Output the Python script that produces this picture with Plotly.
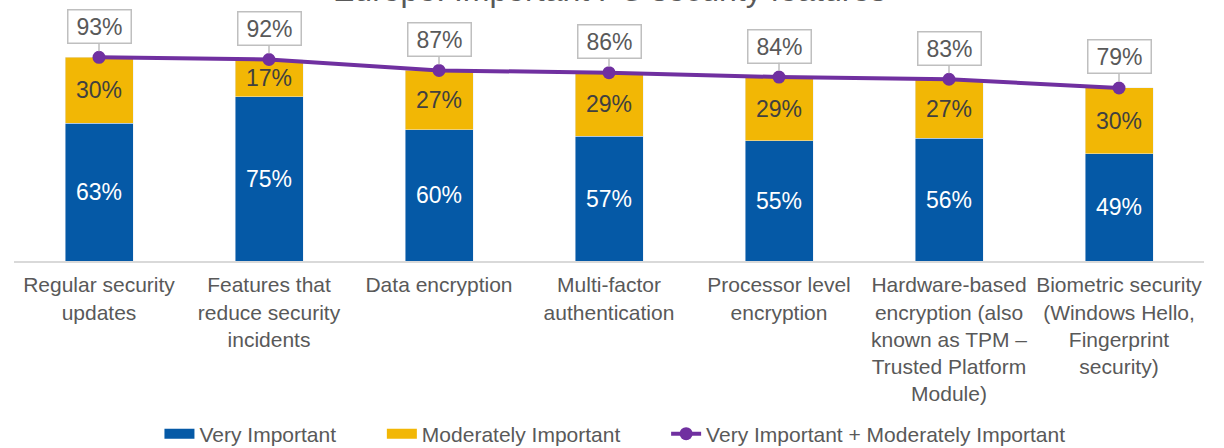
import plotly.graph_objects as go

categories = [
    "Regular security<br>updates",
    "Features that<br>reduce security<br>incidents",
    "Data encryption",
    "Multi-factor<br>authentication",
    "Processor level<br>encryption",
    "Hardware-based<br>encryption (also<br>known as TPM –<br>Trusted Platform<br>Module)",
    "Biometric security<br>(Windows Hello,<br>Fingerprint<br>security)",
]
very_important = [63, 75, 60, 57, 55, 56, 49]
moderately_important = [30, 17, 27, 29, 29, 27, 30]
combined = [93, 92, 87, 86, 84, 83, 79]

BLUE = "#0559A6"
YELLOW = "#F2B705"
PURPLE = "#7030A0"
GRAY = "#595959"
FONT = "Liberation Sans, Arial, sans-serif"
PAD = "\u00a0" * 7  # extra room between legend entries

fig = go.Figure()

fig.add_trace(go.Bar(
    x=categories, y=very_important, name="Very Important",
    marker_color=BLUE, showlegend=False,
    texttemplate="%{y}%", textposition="inside", insidetextanchor="middle",
    textfont=dict(size=23, color="white", family=FONT),
))
fig.add_trace(go.Bar(
    x=categories, y=moderately_important, name="Moderately Important",
    marker_color=YELLOW, showlegend=False,
    texttemplate="%{y}%", textposition="inside", insidetextanchor="middle",
    textfont=dict(size=23, color="#404040", family=FONT),
))
fig.add_trace(go.Scatter(
    x=categories, y=combined, name="Very Important + Moderately Important",
    mode="lines+markers", line=dict(color=PURPLE, width=4),
    marker=dict(color=PURPLE, size=13), showlegend=False,
))

# legend entries (wide swatches like the original)
fig.add_trace(go.Scatter(x=[None], y=[None], mode="lines", name="Very Important" + PAD,
                         line=dict(color=BLUE, width=10)))
fig.add_trace(go.Scatter(x=[None], y=[None], mode="lines", name="Moderately Important" + PAD,
                         line=dict(color=YELLOW, width=10)))
fig.add_trace(go.Scatter(x=[None], y=[None], mode="lines+markers",
                         name="Very Important + Moderately Important",
                         line=dict(color=PURPLE, width=4), marker=dict(color=PURPLE, size=13)))

# callout labels for the totals
for c, v in zip(categories, combined):
    fig.add_annotation(
        x=c, y=v, text=f"{v}%", showarrow=True, ax=0, ay=-31,
        arrowhead=0, arrowwidth=1.5, arrowcolor="#BFBFBF", standoff=6,
        bgcolor="white", bordercolor="#BFBFBF", borderwidth=1.5, borderpad=3,
        width=56, font=dict(size=23, color=GRAY, family=FONT),
    )

# title sits partly above the page edge, as in the source image
fig.add_annotation(
    x=0.5, y=1.237, xref="paper", yref="paper", showarrow=False,
    text="Europe: Important PC security features",
    font=dict(size=32, color=GRAY, family=FONT), yanchor="middle",
)

fig.update_layout(
    width=1224, height=448,
    margin=dict(l=14, r=20, t=42, b=187, autoexpand=False),
    barmode="stack", bargap=0.6,
    plot_bgcolor="white", paper_bgcolor="white",
    font=dict(family=FONT, color=GRAY),
    xaxis=dict(showline=True, linecolor="#D9D9D9", linewidth=2, automargin=False,
               tickfont=dict(size=21, color=GRAY), ticks="", ticklabelstandoff=4),
    yaxis=dict(range=[0, 100], visible=False, showgrid=False, automargin=False),
    legend=dict(orientation="h", x=0.505, xanchor="center", y=-0.79, yanchor="middle",
                font=dict(size=21, color=GRAY), itemwidth=30, traceorder="normal"),
)

fig.write_html("out.html", config={"displayModeBar": False},
               post_script="document.body.style.margin = '0';")
